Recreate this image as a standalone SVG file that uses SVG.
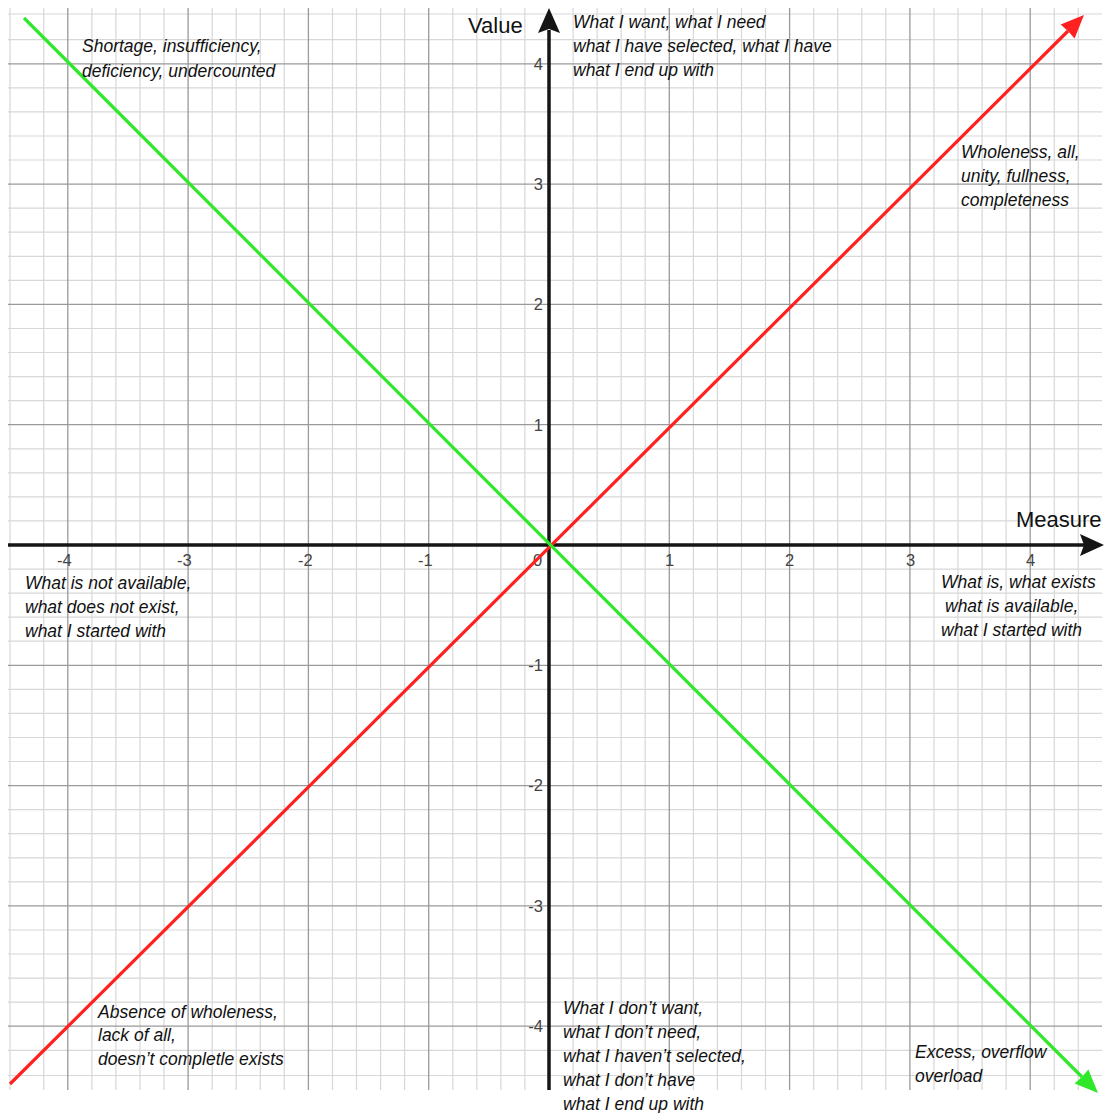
<svg xmlns="http://www.w3.org/2000/svg" width="1106" height="1113" viewBox="0 0 1106 1113">
<style>
.minor{stroke:#d8d8d8;stroke-width:1.2;fill:none}
.major{stroke:#9a9a9a;stroke-width:1.3;fill:none}
.axis{stroke:#151515;stroke-width:3.5;fill:none}
.tick{font-family:"Liberation Sans",Arial,sans-serif;font-size:16.5px;fill:#444}
.ytick{font-family:"Liberation Sans",Arial,sans-serif;font-size:16.5px;fill:#444;text-anchor:end}
.lbl{font-family:"Liberation Sans",Arial,sans-serif;font-style:italic;font-size:17.5px;fill:#111}
.title{font-family:"Liberation Sans",Arial,sans-serif;font-size:22px;fill:#111}
</style>
<rect width="1106" height="1113" fill="#ffffff"/>
<g id="grid">
<path class="minor" d="M10 8V1090M43.7 8V1090M91.9 8V1090M115.9 8V1090M140 8V1090M164 8V1090M212.2 8V1090M236.2 8V1090M260.3 8V1090M284.3 8V1090M332.5 8V1090M356.5 8V1090M380.6 8V1090M404.6 8V1090M452.8 8V1090M476.8 8V1090M500.9 8V1090M524.9 8V1090M573.1 8V1090M597.1 8V1090M621.2 8V1090M645.2 8V1090M693.4 8V1090M717.4 8V1090M741.5 8V1090M765.5 8V1090M813.7 8V1090M837.7 8V1090M861.8 8V1090M885.8 8V1090M934 8V1090M958 8V1090M982.1 8V1090M1006.1 8V1090M1054.3 8V1090M1078.3 8V1090"/>
<path class="minor" d="M8 14H1102M8 39.7H1102M8 87.9H1102M8 111.9H1102M8 136H1102M8 160H1102M8 208.2H1102M8 232.2H1102M8 256.3H1102M8 280.3H1102M8 328.5H1102M8 352.5H1102M8 376.6H1102M8 400.6H1102M8 448.8H1102M8 472.8H1102M8 496.9H1102M8 520.9H1102M8 569.1H1102M8 593.1H1102M8 617.2H1102M8 641.2H1102M8 689.4H1102M8 713.4H1102M8 737.5H1102M8 761.5H1102M8 809.7H1102M8 833.7H1102M8 857.8H1102M8 881.8H1102M8 930H1102M8 954H1102M8 978.1H1102M8 1002.1H1102M8 1050.3H1102M8 1075.5H1102"/>
<path class="major" d="M67.8 8V1090M188.1 8V1090M308.4 8V1090M428.7 8V1090M669.3 8V1090M789.6 8V1090M909.9 8V1090M1030.2 8V1090"/>
<path class="major" d="M8 63.8H1102M8 184.1H1102M8 304.4H1102M8 424.7H1102M8 665.3H1102M8 785.6H1102M8 905.9H1102M8 1026.2H1102"/>
</g>
<g id="ticks">
<text class="tick" x="57" y="566">-4</text>
<text class="tick" x="177" y="566">-3</text>
<text class="tick" x="298" y="566">-2</text>
<text class="tick" x="418" y="566">-1</text>
<text class="tick" x="533" y="566">0</text>
<text class="tick" x="665" y="566">1</text>
<text class="tick" x="785" y="566">2</text>
<text class="tick" x="906" y="566">3</text>
<text class="tick" x="1026" y="566">4</text>
<text class="ytick" x="543" y="70">4</text>
<text class="ytick" x="543" y="190">3</text>
<text class="ytick" x="543" y="310">2</text>
<text class="ytick" x="543" y="431">1</text>
<text class="ytick" x="543" y="671">-1</text>
<text class="ytick" x="543" y="791">-2</text>
<text class="ytick" x="543" y="912">-3</text>
<text class="ytick" x="543" y="1032">-4</text>
</g>
<g id="connectors">
<g id="axis-x">
<path class="axis" d="M8 545H1084"/>
<polygon points="1104,545 1080,534 1084,545 1080,556" fill="#151515"/>
</g>
<g id="axis-y">
<path class="axis" d="M549 1090V30"/>
<polygon points="549,8 538,33 549,29 560,33" fill="#151515"/>
</g>
<g id="line-red">
<path d="M10 1084L1068 31" stroke="#ff2020" stroke-width="3.2" fill="none"/>
<polygon points="1084,15 1074.6,38.4 1068,31 1060.6,24.6" fill="#ff2020"/>
</g>
<g id="line-green">
<path d="M24 18L1082 1077" stroke="#2fe82a" stroke-width="3.2" fill="none"/>
<polygon points="1098,1093 1074.6,1083.4 1082,1077 1088.4,1069.6" fill="#2fe82a"/>
</g>
</g>
<g id="node-value"><text class="title" x="468" y="33">Value</text></g>
<g id="node-measure"><text class="title" x="1016" y="527">Measure</text></g>
<g id="node-shortage">
<text class="lbl" x="82" y="52">Shortage, insufficiency,</text>
<text class="lbl" x="82" y="77">deficiency, undercounted</text>
</g>
<g id="node-want">
<text class="lbl" x="573" y="28">What I want, what I need</text>
<text class="lbl" x="573" y="52">what I have selected, what I have</text>
<text class="lbl" x="573" y="76">what I end up with</text>
</g>
<g id="node-wholeness">
<text class="lbl" x="961" y="158">Wholeness, all,</text>
<text class="lbl" x="961" y="182">unity, fullness,</text>
<text class="lbl" x="961" y="206">completeness</text>
</g>
<g id="node-notavailable">
<text class="lbl" x="25" y="589">What is not available,</text>
<text class="lbl" x="25" y="613">what does not exist,</text>
<text class="lbl" x="25" y="637">what I started with</text>
</g>
<g id="node-whatis">
<text class="lbl" x="941" y="588">What is, what exists</text>
<text class="lbl" x="945" y="612">what is available,</text>
<text class="lbl" x="941" y="636">what I started with</text>
</g>
<g id="node-absence">
<text class="lbl" x="98" y="1018">Absence of wholeness,</text>
<text class="lbl" x="98" y="1041">lack of all,</text>
<text class="lbl" x="98" y="1065">doesn’t completle exists</text>
</g>
<g id="node-dontwant">
<text class="lbl" x="563" y="1014">What I don’t want,</text>
<text class="lbl" x="563" y="1038">what I don’t need,</text>
<text class="lbl" x="563" y="1062">what I haven’t selected,</text>
<text class="lbl" x="563" y="1086">what I don’t have</text>
<text class="lbl" x="563" y="1110">what I end up with</text>
</g>
<g id="node-excess">
<text class="lbl" x="915" y="1058">Excess, overflow</text>
<text class="lbl" x="915" y="1082">overload</text>
</g>
</svg>
